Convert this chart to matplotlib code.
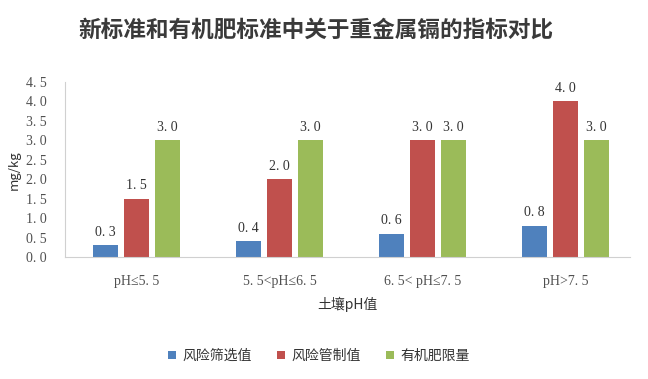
import matplotlib
matplotlib.use("Agg")
import matplotlib.pyplot as plt
import numpy as np

categories = ["pH≤5.5", "5.5<pH≤6.5", "6.5< pH≤7.5", "pH>7.5"]
series_names = ["风险筛选值", "风险管制值", "有机肥限量"]
screen_vals = [0.3, 0.4, 0.6, 0.8]
control_vals = [1.5, 2.0, 3.0, 4.0]
organic_vals = [3.0, 3.0, 3.0, 3.0]
colors = ["#4F81BD", "#C0504D", "#9BBB59"]
yticks = [0.0, 0.5, 1.0, 1.5, 2.0, 2.5, 3.0, 3.5, 4.0, 4.5]

cjk = ["Noto Sans CJK SC", "DejaVu Sans"]
serif = ["Liberation Serif", "Noto Sans CJK SC", "DejaVu Sans"]

W, H = 648, 379
fig = plt.figure(figsize=(W / 100, H / 100), dpi=100)
ax_left, ax_right, ax_top, ax_bottom = 65, 630, 82, 257
ax = fig.add_axes([ax_left / W, 1 - ax_bottom / H, (ax_right - ax_left) / W, (ax_bottom - ax_top) / H])

x = np.arange(len(categories))
w = 0.175
step = 0.217
for i, (vals, c) in enumerate(zip([screen_vals, control_vals, organic_vals], colors)):
    pos = x + (i - 1) * step
    ax.bar(pos, vals, width=w, color=c, label=series_names[i])
    for p, v in zip(pos, vals):
        ax.text(p, v + 0.17, f"{v:.1f}".replace(".", ". "), ha="center", va="bottom",
                fontsize=10, family=serif, color="#333333")

ax.set_xlim(-0.5, 3.45)
ax.set_ylim(0, 4.5)
ax.set_yticks(yticks)
ax.set_yticklabels([f"{t:.1f}".replace(".", ". ") for t in yticks], family=serif, fontsize=10, color="#505050")
ax.set_xticks(x)
ax.set_xticklabels([c.replace(".", ". ") for c in categories], family=serif, fontsize=10, color="#505050")
ax.tick_params(axis="y", length=0, pad=13)
ax.tick_params(axis="x", length=0, pad=13)
for s in ["top", "right"]:
    ax.spines[s].set_visible(False)
for s in ["left", "bottom"]:
    ax.spines[s].set_color("#D0D0D0")
    ax.spines[s].set_linewidth(0.8)

fig.text(14 / W, 1 - 170 / H, "mg/kg", rotation=90, ha="center", va="center",
         family=cjk, fontsize=9.5, color="#333333")
ax.set_xlabel("土壤pH值", family=cjk, fontsize=10, color="#333333", labelpad=6)

fig.text(316 / W, 1 - 30 / H, "新标准和有机肥标准中关于重金属镉的指标对比", ha="center", va="center",
         family=cjk, fontsize=16.3, fontweight="bold", color="#3a3a3a")

leg = fig.legend(loc="center", bbox_to_anchor=(319 / W, 1 - 356 / H), ncol=3, frameon=False,
                 prop={"family": cjk, "size": 10}, handlelength=0.55, handleheight=0.55,
                 columnspacing=1.8, handletextpad=0.5)
for t in leg.get_texts():
    t.set_color("#333333")

fig.savefig("out.png", dpi=100, facecolor="white")
